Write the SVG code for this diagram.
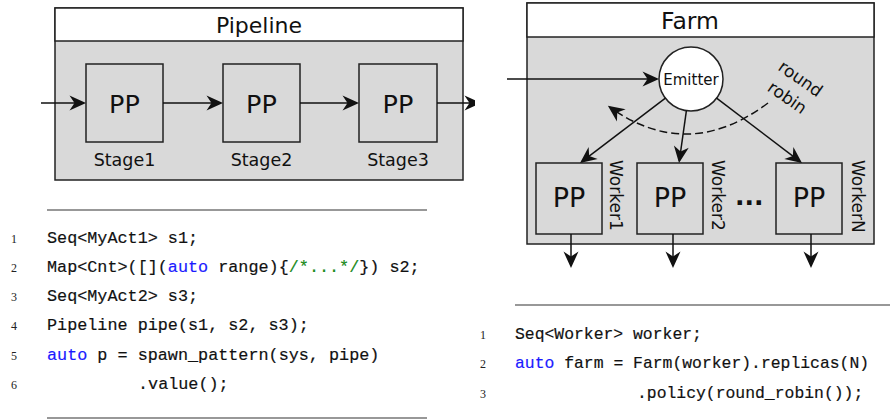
<svg xmlns="http://www.w3.org/2000/svg" width="890" height="419" viewBox="0 0 890 419">
<style>
.box{fill:#d9d9d9;stroke:#222;stroke-width:1.5}
.title{fill:#fff;stroke:#222;stroke-width:1.5}
.node{fill:#d9d9d9;stroke:#222;stroke-width:1.5}
.sans{font-family:"DejaVu Sans",sans-serif;fill:#111}
.pp{font-size:25.5px;text-anchor:middle}
.lbl{font-size:17.5px;text-anchor:middle}
.wl{font-size:17px}
.con{stroke:#111;stroke-width:1.5;fill:none}
.code{font-family:"Liberation Mono","DejaVu Sans Mono",monospace;fill:#111;stroke:#111;stroke-width:0.18}
.ln{font-family:"Liberation Serif",serif;font-size:12px;fill:#222;text-anchor:middle}
.kw{fill:#1a1aff;stroke:#1a1aff}
.cm{fill:#1a8a1a;stroke:#1a8a1a}
.rule{stroke:#333;stroke-width:1.1}
</style>
<defs>
<marker id="ah" viewBox="-18 -8 19 16" refX="-2" refY="0" markerWidth="19" markerHeight="16" markerUnits="userSpaceOnUse" orient="auto">
<path d="M0,0 L-16.5,-7.5 L-11.5,0 L-16.5,7.5 Z" fill="#111"/>
</marker>
<clipPath id="clipR"><rect x="0" y="0" width="475" height="419"/></clipPath>
</defs>

<g id="pipeline">
<rect class="box" x="55" y="8" width="408" height="172"/>
<rect class="title" x="55" y="8" width="408" height="33"/>
<text class="sans" x="259" y="33" font-size="22" text-anchor="middle">Pipeline</text>
</g>
<g id="stage1">
<rect class="node" x="86" y="64" width="77" height="78"/>
<text class="sans pp" x="124.5" y="113">PP</text>
<text class="sans lbl" x="124.5" y="166">Stage1</text>
</g>
<g id="stage2">
<rect class="node" x="223" y="64" width="77" height="78"/>
<text class="sans pp" x="261.5" y="113">PP</text>
<text class="sans lbl" x="261.5" y="166">Stage2</text>
</g>
<g id="stage3">
<rect class="node" x="359" y="64" width="78" height="78"/>
<text class="sans pp" x="398" y="113">PP</text>
<text class="sans lbl" x="398" y="166">Stage3</text>
</g>

<g id="farm">
<rect class="box" x="527" y="3" width="347" height="241"/>
<rect class="title" x="527" y="3" width="347" height="34"/>
<text class="sans" x="690" y="28.5" font-size="23.5" text-anchor="middle">Farm</text>
</g>
<g id="emitter">
<circle cx="691" cy="79" r="32" fill="#fff" stroke="#222" stroke-width="1.5"/>
<text class="sans" x="691" y="85" font-size="15" text-anchor="middle">Emitter</text>
</g>
<g id="worker1">
<rect class="node" x="536" y="163" width="66" height="71"/>
<text class="sans" x="569" y="207" font-size="27" text-anchor="middle">PP</text>
<text class="sans wl" transform="translate(610,160) rotate(90)">Worker1</text>
</g>
<g id="worker2">
<rect class="node" x="637" y="163" width="66" height="71"/>
<text class="sans" x="670" y="207" font-size="27" text-anchor="middle">PP</text>
<text class="sans wl" transform="translate(712,160) rotate(90)">Worker2</text>
</g>
<g id="workerN">
<rect class="node" x="776" y="163" width="66" height="71"/>
<text class="sans" x="809" y="207" font-size="27" text-anchor="middle">PP</text>
<text class="sans wl" transform="translate(852,160) rotate(90)">WorkerN</text>
</g>
<g id="dots">
<text class="sans" x="735" y="205" font-size="25" font-weight="bold">...</text>
</g>
<g id="rr-label">
<text class="sans" font-size="17" text-anchor="middle" transform="translate(794,88) rotate(35)"><tspan x="0" y="-5.5">round</tspan><tspan x="0" y="17.5">robin</tspan></text>
</g>

<g id="connectors">
<line class="con" x1="41" y1="103" x2="84" y2="103" marker-end="url(#ah)"/>
<line class="con" x1="163" y1="103" x2="221" y2="103" marker-end="url(#ah)"/>
<line class="con" x1="300" y1="103" x2="357" y2="103" marker-end="url(#ah)"/>
<g clip-path="url(#clipR)"><line class="con" x1="437" y1="103" x2="479" y2="103" marker-end="url(#ah)"/></g>
<line class="con" x1="507" y1="79" x2="657" y2="79" marker-end="url(#ah)"/>
<line class="con" x1="665.4" y1="98.2" x2="581.6" y2="161.8" marker-end="url(#ah)"/>
<line class="con" x1="686.4" y1="110.7" x2="679.3" y2="161" marker-end="url(#ah)"/>
<line class="con" x1="716.6" y1="98.2" x2="800.4" y2="161.8" marker-end="url(#ah)"/>
<line class="con" x1="571" y1="234" x2="571" y2="266" marker-end="url(#ah)"/>
<line class="con" x1="673" y1="234" x2="673" y2="266" marker-end="url(#ah)"/>
<line class="con" x1="811" y1="234" x2="811" y2="266" marker-end="url(#ah)"/>
<path class="con" d="M768,103 Q688,163 609.5,107" stroke-dasharray="8,4" marker-end="url(#ah)"/>
</g>

<g id="code-pipeline">
<line class="rule" x1="47" y1="210" x2="427" y2="210"/>
<line class="rule" x1="47" y1="418" x2="427" y2="418"/>
<text class="ln" x="14" y="243">1</text>
<text class="ln" x="14" y="272">2</text>
<text class="ln" x="14" y="301">3</text>
<text class="ln" x="14" y="330">4</text>
<text class="ln" x="14" y="360">5</text>
<text class="ln" x="14" y="389">6</text>
<g class="code" font-size="16.8">
<text x="47" y="243">Seq&lt;MyAct1&gt; s1;</text>
<text x="47" y="272">Map&lt;Cnt&gt;([](<tspan class="kw">auto</tspan> range){<tspan class="cm">/*...*/</tspan>}) s2;</text>
<text x="47" y="301">Seq&lt;MyAct2&gt; s3;</text>
<text x="47" y="330">Pipeline pipe(s1, s2, s3);</text>
<text x="47" y="360"><tspan class="kw">auto</tspan> p = spawn_pattern(sys, pipe)</text>
<text x="138" y="389">.value();</text>
</g>
</g>

<g id="code-farm">
<line class="rule" x1="515" y1="305" x2="890" y2="305"/>
<text class="ln" x="483" y="339">1</text>
<text class="ln" x="483" y="368">2</text>
<text class="ln" x="483" y="398">3</text>
<g class="code" font-size="16.4">
<text x="515" y="339">Seq&lt;Worker&gt; worker;</text>
<text x="515" y="368"><tspan class="kw">auto</tspan> farm = Farm(worker).replicas(N)</text>
<text x="637" y="398">.policy(round_robin());</text>
</g>
</g>
</svg>
